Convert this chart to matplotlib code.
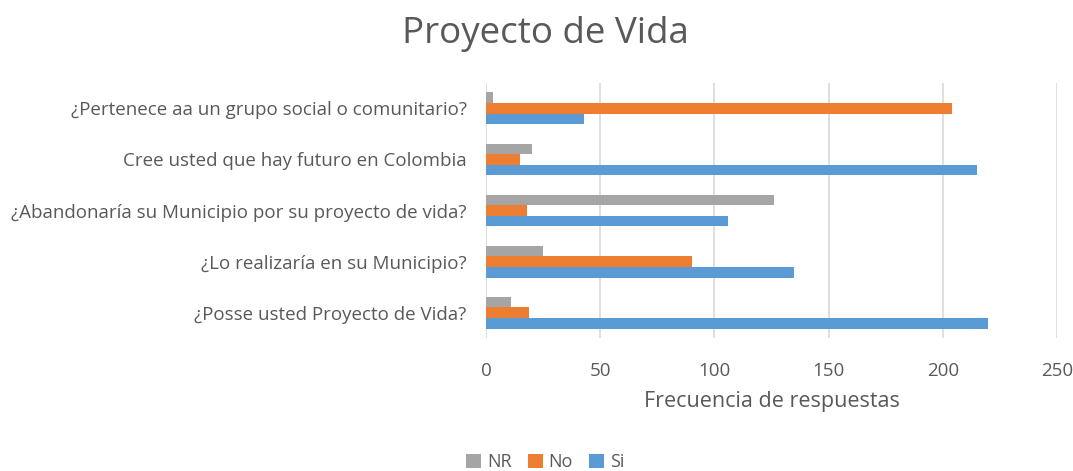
import numpy as np
import matplotlib
matplotlib.use("Agg")
import matplotlib.pyplot as plt

# datos (de abajo hacia arriba)
preguntas = [
    "¿Posse usted Proyecto de Vida?",
    "¿Lo realizaría en su Municipio?",
    "¿Abandonaría su Municipio por su proyecto de vida?",
    "Cree usted que hay futuro en Colombia",
    "¿Pertenece aa un grupo social o comunitario?",
]
nr = [11, 25, 126, 20, 3]
no = [19, 90, 18, 15, 204]
si = [220, 135, 106, 215, 43]

COL_NR = "#A5A5A5"
COL_NO = "#ED7D31"
COL_SI = "#5B9BD5"
TXT = "#595959"

plt.rcParams["font.family"] = ["Open Sans", "DejaVu Sans"]

fig = plt.figure(figsize=(10.73, 4.71), dpi=100)
ax = fig.add_axes([0.453, 0.282, 0.532, 0.542])

y = np.arange(len(preguntas))
h = 0.208
ax.barh(y + h, nr, height=h, color=COL_NR, label="NR", zorder=3)
ax.barh(y, no, height=h, color=COL_NO, label="No", zorder=3)
ax.barh(y - h, si, height=h, color=COL_SI, label="Si", zorder=3)

ax.set_xlim(0, 250)
ax.set_ylim(-0.5, len(preguntas) - 0.5)
ax.set_xticks(range(0, 251, 50))
ax.set_yticks(y)
ax.set_yticklabels(preguntas)
ax.tick_params(axis="both", length=0, colors=TXT, labelsize=13.5)
ax.tick_params(axis="x", pad=17)
ax.tick_params(axis="y", pad=14)
ax.grid(axis="x", color="#D9D9D9", lw=1.2, zorder=0)
for s in ax.spines.values():
    s.set_visible(False)

ax.set_xlabel("Frecuencia de respuestas", color=TXT, fontsize=15.5, labelpad=8)
fig.suptitle("Proyecto de Vida", x=0.508, y=0.965, color=TXT, fontsize=26.5)

fig.legend(loc="lower center", bbox_to_anchor=(0.508, -0.035), ncol=3, frameon=False,
           fontsize=13, handlelength=0.85, handleheight=0.85, handletextpad=0.3,
           columnspacing=0.9, labelcolor=TXT)

fig.savefig("out.png", dpi=100)
